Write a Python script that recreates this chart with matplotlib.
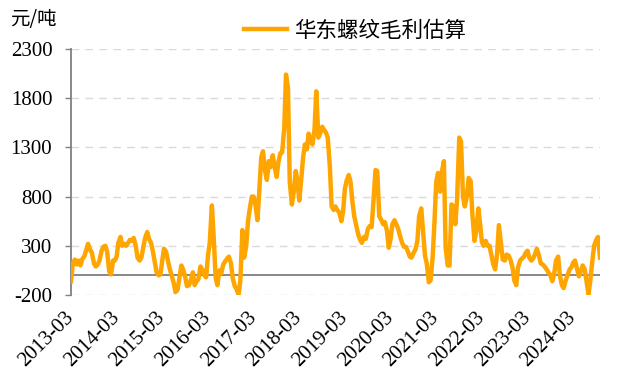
import matplotlib
matplotlib.use('Agg')
import matplotlib.pyplot as plt
import pandas as pd

# 华东螺纹毛利估算 (元/吨), 每半月一个点, 每组从当年3月到次年2月
y2013 = [-60, 120, 160, 110, 150, 100, 170, 190, 260, 320, 260, 230,
         120, 90, 110, 150, 250, 290, 300, 240, 40, 10, 150, 150]
y2014 = [190, 330, 390, 300, 320, 300, 330, 360, 350, 380, 300, 180,
         150, 180, 290, 380, 440, 370, 330, 250, 130, 30, 0, 10]
y2015 = [150, 270, 240, 150, 60, 0, -80, -170, -150, -40, 100, 60,
         -20, -110, -100, -50, 30, -100, -60, -40, 90, 60, 0, -20]
y2016 = [200, 330, 710, 400, -20, -100, 50, 20, 110, 140, 170, 190,
         120, -30, -110, -140, -195, -50, 460, 180, 300, 550, 700, 800]
y2017 = [800, 720, 560, 850, 1200, 1260, 1060, 970, 1160, 1100, 1220, 1110,
         1000, 1150, 1240, 1250, 1500, 2040, 1900, 950, 720, 840, 1060, 950]
y2018 = [760, 950, 1200, 1330, 1280, 1440, 1370, 1330, 1480, 1870, 1400, 1440,
         1510, 1480, 1450, 1400, 1100, 700, 665, 700, 660, 640, 550, 650]
y2019 = [880, 960, 1020, 950, 740, 600, 500, 420, 360, 330, 390, 370,
         470, 500, 490, 740, 1070, 1060, 600, 570, 520, 540, 450, 280]
y2020 = [370, 520, 560, 520, 470, 400, 330, 290, 290, 250, 190, 180,
         230, 260, 350, 600, 680, 450, 200, 120, -70, -50, 200, 550]
y2021 = [950, 1040, 850, 1050, 1160, 280, 100, 100, 720, 700, 520, 780,
         1400, 1360, 800, 700, 800, 990, 960, 620, 350, 450, 680, 520]
y2022 = [340, 300, 350, 300, 300, 210, 110, 60, 220, 510, 320, 160,
         150, 210, 200, 160, 80, -50, -100, 80, 150, 170, 190, 230]
y2023 = [250, 180, 150, 170, 220, 270, 200, 120, 110, 90, 60, 30,
         0, -60, 20, 150, 190, 0, -100, -130, -50, 0, 60, 80]
y2024 = [130, 150, 60, -10, 40, 100, 60, -60, -195, -60, 150, 300,
         360, 390, 180]

series_name = '华东螺纹毛利估算'
unit_label = '元/吨'
tick_labels = ['2013-03', '2014-03', '2015-03', '2016-03', '2017-03', '2018-03',
               '2019-03', '2020-03', '2021-03', '2022-03', '2023-03', '2024-03']
y_ticks = [-200, 300, 800, 1300, 1800, 2300]

values = (y2013 + y2014 + y2015 + y2016 + y2017 + y2018 +
          y2019 + y2020 + y2021 + y2022 + y2023 + y2024)
dates = pd.date_range('2013-03-01', periods=len(values), freq='SMS')
tick_dates = pd.to_datetime([t + '-01' for t in tick_labels])

plt.rcParams['font.family'] = ['Liberation Serif', 'Noto Sans CJK SC']
cjk = ['Noto Sans CJK SC', 'DejaVu Sans']

fig = plt.figure(figsize=(6.31, 3.81), dpi=100)
ax = fig.add_axes([71 / 631, 1 - 295 / 381, 529 / 631, 246 / 381])

# 网格线 (虚线) 和 0 轴
for v in y_ticks:
    ax.axhline(v, color='#D9D9D9', lw=1.0, ls=(0, (5.5, 4.5)), zorder=1)
ax.axhline(0, color='#7F7F7F', lw=1.3, zorder=2)

ax.plot(dates, values, color='#FFA500', lw=3.2, label=series_name,
        solid_joinstyle='round', zorder=3)

ax.set_ylim(-200, 2300)
ax.set_xlim(dates[0], dates[-1])
ax.set_yticks(y_ticks)
ax.set_yticklabels([str(v) for v in y_ticks], fontsize=15)
ax.set_xticks(tick_dates)
ax.set_xticklabels(tick_labels, fontsize=15, rotation=45, ha='right',
                   va='center', rotation_mode='anchor')

for s in ['top', 'right', 'bottom']:
    ax.spines[s].set_visible(False)
ax.spines['left'].set_color('#808080')
ax.spines['left'].set_linewidth(1.3)
ax.tick_params(axis='y', direction='out', length=4.5, width=1.0,
               color='#808080', pad=9)
ax.tick_params(axis='x', length=0, pad=14)

fig.text(10 / 631, 1 - 20 / 381, unit_label, fontsize=14, family=cjk,
         va='center', ha='left')

fig.legend(loc='center', bbox_to_anchor=(355 / 631, 1 - 31 / 381),
           frameon=False, handlelength=2.0, handletextpad=0.3,
           prop={'family': cjk, 'size': 15.5, 'style': 'italic'})

fig.savefig('out.png', dpi=100)
